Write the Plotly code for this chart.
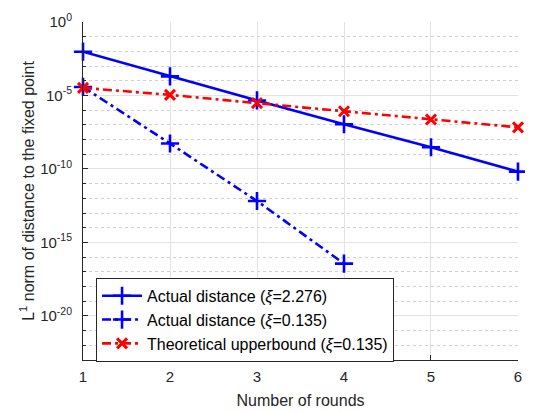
import plotly.graph_objects as go

rounds = [1, 2, 3, 4, 5, 6]
actual_xi_2276 = [9.5e-3, 2.0e-4, 4.6e-6, 1.1e-7, 3.0e-9, 6.6e-11]
rounds_short = [1, 2, 3, 4]
actual_xi_0135 = [3.8e-5, 5.4e-9, 6.6e-13, 3.6e-17]
bound_xi_0135 = [3.3e-5, 1.1e-5, 3.0e-6, 8.5e-7, 2.3e-7, 6.8e-8]

names = ["Actual distance (<i>ξ</i>=2.276)",
         "Actual distance (<i>ξ</i>=0.135)",
         "Theoretical upperbound (<i>ξ</i>=0.135)"]

major_exp = [-20, -15, -10, -5, 0]
major_vals = [10.0 ** e for e in major_exp]
major_text = ["10<sup>%d</sup>" % e for e in major_exp]
minor_vals = [10.0 ** e for e in range(-23, 1) if e not in major_exp]

FONT = "Liberation Sans, Arial, sans-serif"
DASHDOT = "9px,4px,3px,4px"

fig = go.Figure()
fig.add_trace(go.Scatter(
    x=rounds, y=actual_xi_2276, name=names[0], mode="lines+markers", cliponaxis=False,
    line=dict(color="#0000ff", width=2.6, dash="solid"),
    marker=dict(symbol="cross-thin", size=13, line=dict(color="#0000ff", width=2.6))))
fig.add_trace(go.Scatter(
    x=rounds_short, y=actual_xi_0135, name=names[1], mode="lines+markers", cliponaxis=False,
    line=dict(color="#0000ff", width=2.6, dash=DASHDOT),
    marker=dict(symbol="cross-thin", size=13, line=dict(color="#0000ff", width=2.6))))
fig.add_trace(go.Scatter(
    x=rounds, y=bound_xi_0135, name=names[2], mode="lines+markers", cliponaxis=False,
    line=dict(color="#ff0000", width=2.6, dash=DASHDOT),
    marker=dict(symbol="x-thin", size=10, line=dict(color="#ff0000", width=3))))

# the page body has an 8px default margin and the graph div is clipped to the body width
fig.update_layout(
    width=517, height=404,
    margin=dict(l=75, r=5, t=3, b=52),
    paper_bgcolor="white", plot_bgcolor="white",
    font=dict(family=FONT, size=15, color="#262626"),
    showlegend=True,
    legend=dict(x=0.03, y=0.243, xanchor="left", yanchor="top",
                bgcolor="white", bordercolor="#262626", borderwidth=1,
                font=dict(size=16, color="#000000"),
                tracegroupgap=0, itemwidth=40),
    xaxis=dict(
        range=[0.9999, 6.0001], tickvals=rounds, ticks="inside", ticklen=5,
        tickcolor="#262626", showline=True, linecolor="#262626", linewidth=1,
        showgrid=True, gridcolor="#e3e3e3", gridwidth=1, zeroline=False,
        ticklabeloverflow="allow", ticklabelstandoff=3,
        title=dict(text="Number of rounds", font=dict(size=16, color="#262626"), standoff=10),
        tickfont=dict(size=15, color="#262626"), mirror=False),
    yaxis=dict(
        type="log", range=[-23, 0.0001], tickmode="array",
        tickvals=major_vals, ticktext=major_text,
        ticks="inside", ticklen=5, tickcolor="#262626",
        showline=True, linecolor="#262626", linewidth=1,
        showgrid=True, gridcolor="#e3e3e3", gridwidth=1, zeroline=False,
        ticklabeloverflow="allow", ticklabelstandoff=7,
        minor=dict(tickmode="array", tickvals=minor_vals, ticks="inside",
                   ticklen=3, tickcolor="#262626", showgrid=True,
                   gridcolor="#cfcfcf", griddash="dot", gridwidth=1),
        title=dict(text="L<sup>1</sup> norm of distance to the fixed point",
                   font=dict(size=16, color="#262626"), standoff=1),
        tickfont=dict(size=15, color="#262626"), mirror=False),
)

fig.write_html("out.html")
